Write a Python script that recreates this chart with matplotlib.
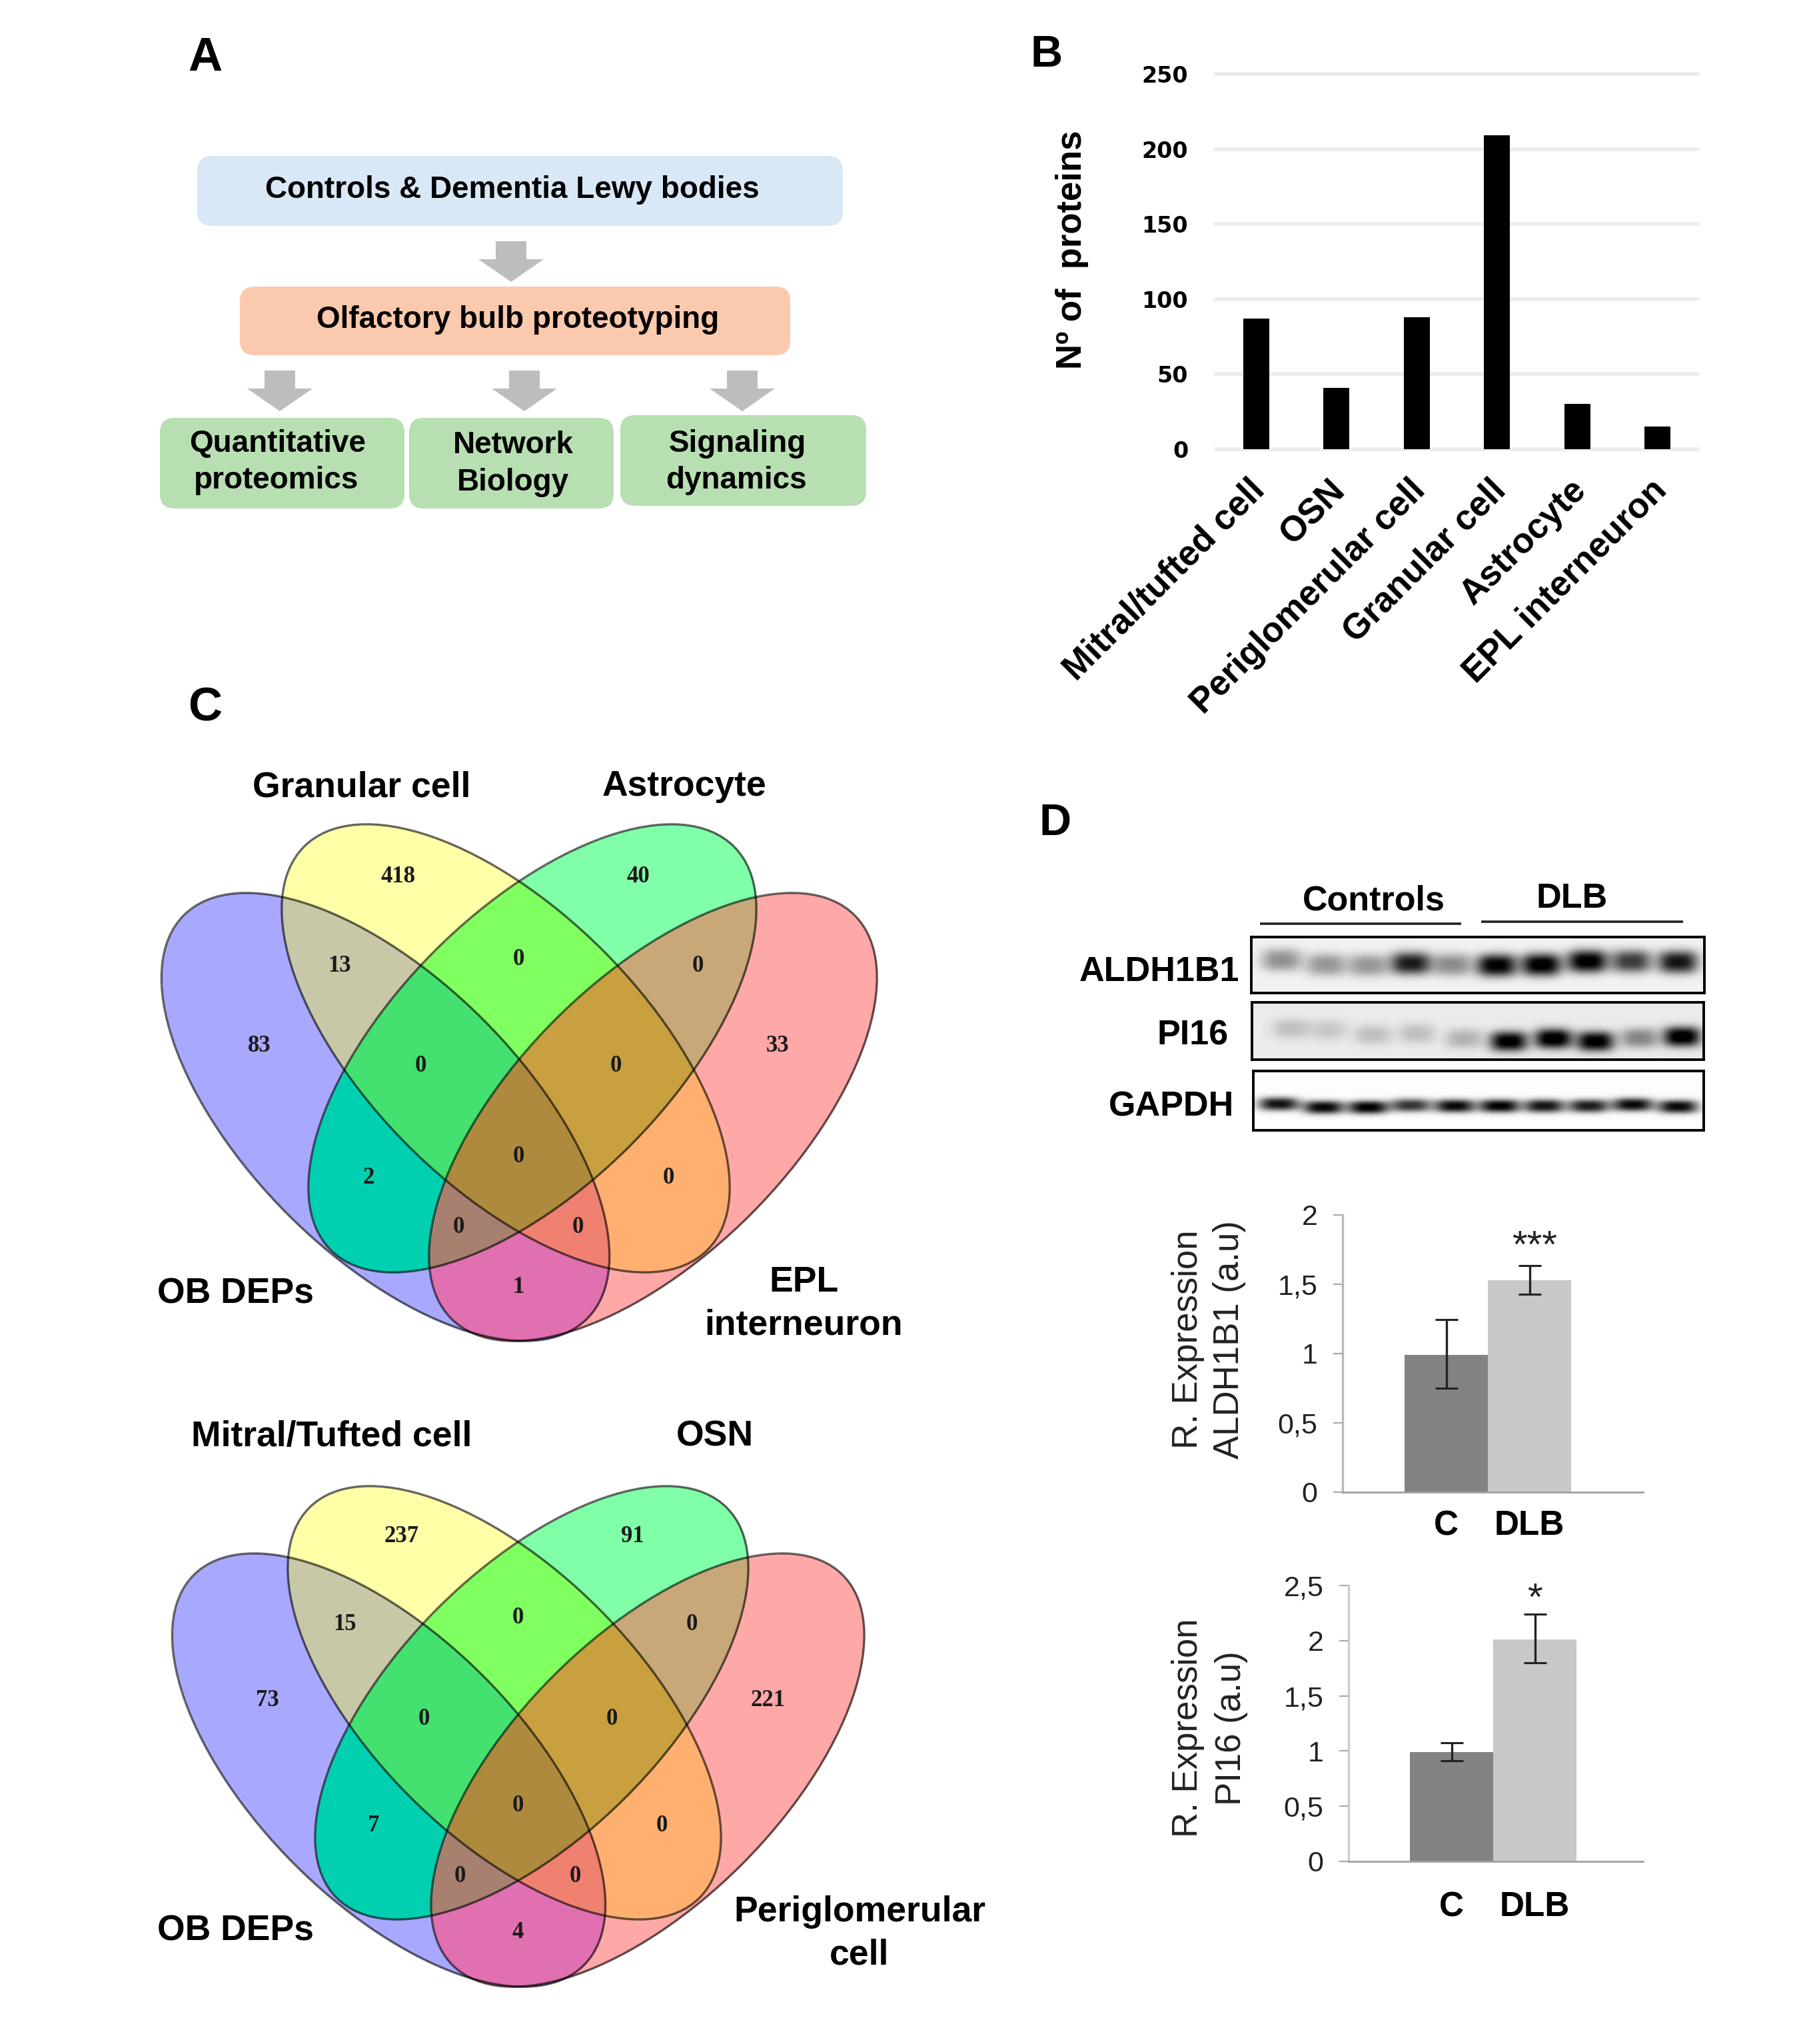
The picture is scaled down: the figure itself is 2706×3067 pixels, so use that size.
import numpy as np
import matplotlib
matplotlib.use("Agg")
import matplotlib.pyplot as plt
from matplotlib.colors import to_rgb
from matplotlib.patches import Ellipse, FancyBboxPatch, Polygon

plt.rcParams['font.family'] = ['Liberation Sans', 'DejaVu Sans']

W, H = 2706, 3067

# Panel B
cell_types = ["Mitral/tufted cell", "OSN", "Periglomerular cell", "Granular cell", "Astrocyte", "EPL interneuron"]
n_proteins = [87, 41, 88, 209, 30, 15]
b_ticks = [0, 50, 100, 150, 200, 250]

# Panel C
venn1_sets = ["OB DEPs", "Granular cell", "Astrocyte", "EPL\ninterneuron"]
venn1_counts = [418, 40, 13, 0, 0, 83, 33, 0, 0, 0, 2, 0, 0, 0, 1]
venn2_sets = ["OB DEPs", "Mitral/Tufted cell", "OSN", "Periglomerular\ncell"]
venn2_counts = [237, 91, 15, 0, 0, 73, 221, 0, 0, 0, 7, 0, 0, 0, 4]

# Panel D bar charts
groups = ["C", "DLB"]
aldh_mean = [0.99, 1.53]
aldh_low = [0.75, 1.43]
aldh_high = [1.245, 1.635]
aldh_ticks = [0, 0.5, 1, 1.5, 2]
pi16_mean = [0.99, 2.01]
pi16_low = [0.91, 1.80]
pi16_high = [1.075, 2.24]
pi16_ticks = [0, 0.5, 1, 1.5, 2, 2.5]

# Panel D blot band strengths, one per lane
aldh_bands = [0.38, 0.36, 0.36, 0.85, 0.40, 0.97, 1.0, 1.0, 0.72, 0.88]
pi16_bands = [0.17, 0.14, 0.17, 0.17, 0.22, 0.97, 1.0, 0.97, 0.40, 1.0]
gapdh_bands = [0.92, 0.97, 1.0, 0.78, 0.96, 1.0, 0.92, 0.88, 0.96, 0.96]

# colour of each venn region, index = blue + 2*yellow + 4*green + 8*red
region_colors = ["#ffffff", "#a8a8ff", "#ffffa8", "#c8c8a8", "#80ffa8", "#00d0b0", "#80ff60", "#44e070",
                 "#ffa8a8", "#e070b0", "#ffb070", "#f08070", "#c8a878", "#a88070", "#c8a040", "#ad8a3d"]

fig = plt.figure(figsize=(W / 100, H / 100), dpi=100, facecolor="white")
ax = fig.add_axes([0, 0, 1, 1])
ax.axis("off")


def axes_px(left, top, right, bottom):
    a = fig.add_axes([left / W, 1 - bottom / H, (right - left) / W, (bottom - top) / H])
    a.patch.set_alpha(0)
    return a


def label(x, y, s, size=38.5, weight="bold", **kw):
    ax.text(x, y, s, fontsize=size, fontweight=weight, ha="center", va="center", linespacing=1.37, **kw)


# panel letters
label(308, 88, "A", 51)
label(1571, 83, "B", 48)
label(308, 1063, "C", 51)
label(1584, 1236, "D", 48)

# Panel A flow chart
boxes = [
    (296, 234, 1265, 339, "#d9e8f6", [(769, 285, "Controls & Dementia Lewy bodies")]),
    (360, 430, 1186, 533, "#fbc9ad", [(777, 480, "Olfactory bulb proteotyping")]),
    (240, 627, 607, 763, "#b8dfb2", [(417, 666, "Quantitative"), (415, 721, "proteomics")]),
    (614, 627, 921, 763, "#b8dfb2", [(770, 668, "Network"), (770, 724, "Biology")]),
    (931, 623, 1300, 759, "#b8dfb2", [(1107, 666, "Signaling"), (1105, 721, "dynamics")]),
]
for x0, y0, x1, y1, col, lines in boxes:
    ax.add_patch(FancyBboxPatch((x0, y0), x1 - x0, y1 - y0, boxstyle="round,pad=0,rounding_size=22",
                                fc=col, ec="none"))
    for tx, ty, s in lines:
        label(tx, ty, s, 33)

for cx, top in [(767, 362), (420, 556), (787, 556), (1114, 556)]:
    ax.add_patch(Polygon([(cx - 23, top), (cx + 23, top), (cx + 23, top + 27), (cx + 49, top + 27),
                          (cx, top + 61), (cx - 49, top + 27), (cx - 23, top + 27)], fc="#bdbdbd", ec="none"))


# Panel C venn diagrams
def venn(centres, a, b, counts, spots, names, name_spots):
    angles = [45, 45, -45, -45]
    x0, x1 = min(c[0] for c in centres) - 350, max(c[0] for c in centres) + 350
    y0, y1 = min(c[1] for c in centres) - 350, max(c[1] for c in centres) + 350
    xx, yy = np.meshgrid(np.arange(x0, x1), np.arange(y0, y1))
    idx = np.zeros(xx.shape, dtype=int)
    for i, ((cx, cy), ang) in enumerate(zip(centres, angles)):
        t = np.radians(ang)
        u = (xx - cx) * np.cos(t) + (yy - cy) * np.sin(t)
        v = -(xx - cx) * np.sin(t) + (yy - cy) * np.cos(t)
        idx += ((u / a) ** 2 + (v / b) ** 2 <= 1).astype(int) * 2 ** i
    lut = np.array([to_rgb(c) for c in region_colors])
    ax.imshow(lut[idx], extent=(x0, x1, y1, y0), aspect="auto", interpolation="nearest", zorder=0)
    for (cx, cy), ang in zip(centres, angles):
        ax.add_patch(Ellipse((cx, cy), 2 * a, 2 * b, angle=ang, fc="none", ec="#000000", alpha=0.6, lw=2.4))
    for c, (x, y) in zip(counts, spots):
        ax.text(x, y, str(c), fontsize=25, fontweight="bold", family="Liberation Serif", color="#1a1a1a",
                ha="center", va="center")
    for s, (x, y) in zip(names, name_spots):
        label(x, y, s)


venn([(578.5, 1676), (759, 1573), (799, 1573), (980, 1676)], 428, 207, venn1_counts,
     [(598, 1315), (958, 1315), (510, 1449), (778, 1439), (1047, 1449), (389, 1569), (1167, 1569),
      (631, 1599), (924, 1599), (778, 1735), (553, 1767), (1003, 1767), (688, 1842), (867, 1842), (778, 1931)],
     venn1_sets, [(354, 1942), (543, 1181), (1027, 1180), (1206, 1956)])

venn([(583.5, 2656), (757, 2555), (798, 2555), (972, 2656)], 414, 200, venn2_counts,
     [(603, 2306), (949, 2306), (518, 2437), (777, 2428), (1038, 2437), (401, 2552), (1152, 2552),
      (636, 2580), (918, 2580), (777, 2710), (561, 2740), (993, 2740), (690, 2816), (863, 2816), (777, 2900)],
     venn2_sets, [(354, 2898), (498, 2156), (1073, 2156), (1290, 2901)])

ax.set_xlim(0, W)
ax.set_ylim(H, 0)

# Panel B bars
axb = axes_px(1825, 111, 2548, 674)
xb = np.arange(len(cell_types))
axb.bar(xb, n_proteins, width=0.32, color="black", zorder=3)
axb.set_xlim(-0.5, 5.5)
axb.set_ylim(0, 250)
axb.set_yticks(b_ticks)
axb.set_yticklabels([str(t) for t in b_ticks], fontsize=24, fontweight="bold", family="DejaVu Sans")
axb.set_xticks(xb - 0.1)
axb.set_xticklabels(cell_types, rotation=45, ha="right", va="top", rotation_mode="anchor",
                    fontsize=38, fontweight="bold")
axb.tick_params(length=0, pad=30, axis="y")
axb.tick_params(length=0, pad=26, axis="x")
axb.grid(axis="y", color="#ececec", lw=4, zorder=0)
for sp in axb.spines.values():
    sp.set_visible(False)
for ln in axb.get_ygridlines():
    ln.set_clip_on(False)
ax.text(1609, 375, "Nº of  proteins", rotation=90, fontsize=38, fontweight="bold", ha="center", va="center")


# Panel D blots
def blot(x0, y0, x1, y1, bands, lanes, rows, half_w, half_h, back, label_txt, label_xy):
    xx, yy = np.meshgrid(np.arange(x0, x1), np.arange(y0, y1))
    img = np.full(xx.shape, back, dtype=float)
    for s, lx, ly in zip(bands, lanes, rows):
        img += s * np.exp(-np.abs((xx - lx) / half_w) ** 3 - np.abs((yy - ly) / half_h) ** 2.5)
    a = axes_px(x0, y0, x1, y1)
    a.imshow(np.clip(img, 0, 1), cmap="gray_r", vmin=0, vmax=1, aspect="auto", interpolation="bilinear")
    a.set_xticks([])
    a.set_yticks([])
    for sp in a.spines.values():
        sp.set_linewidth(2.8)
    ax.text(label_xy[0], label_xy[1], label_txt, fontsize=37.5, fontweight="bold", ha="right", va="center")


blot(1878, 1406, 2558, 1490, aldh_bands,
     [1923, 1990, 2053, 2117, 2179, 2246, 2313, 2382, 2448, 2518],
     [1440, 1447, 1448, 1445, 1447, 1448, 1447, 1442, 1442, 1443], 30, 17, 0.05, "ALDH1B1", (1860, 1458))
blot(1879, 1504, 2557, 1590, pi16_bands,
     [1937, 1993, 2060, 2126, 2197, 2264, 2331, 2394, 2460, 2524],
     [1543, 1545, 1552, 1550, 1558, 1562, 1558, 1562, 1557, 1555], 28, 15, 0.08, "PI16", (1844, 1554))
blot(1881, 1607, 2557, 1696, gapdh_bands,
     [1919, 1986, 2053, 2117, 2183, 2250, 2317, 2384, 2450, 2518],
     [1656, 1661, 1661, 1658, 1659, 1659, 1659, 1659, 1657, 1660], 30, 10, 0.01, "GAPDH", (1852, 1661))

label(2062, 1352, "Controls", 37.5)
label(2359, 1348, "DLB", 37.5)
ax.plot([1891, 2193], [1386, 1386], color="#222222", lw=2.6, solid_capstyle="butt")
ax.plot([2223, 2526], [1383, 1383], color="#222222", lw=2.6, solid_capstyle="butt")


# Panel D bar charts
def expr_chart(left, top, right, bottom, x_c, x_dlb, means, low, high, ymax, ticks, ylab, ylab_x, ylab_y,
               star, star_xy, spine_col, xpad):
    a = axes_px(left, top, right, bottom)
    step = x_dlb - x_c
    a.set_xlim((left - x_c) / step, (right - x_c) / step)
    a.set_ylim(0, ymax)
    xs = np.arange(2)
    a.bar(xs, means, width=1.0, color=["#838383", "#c8c8c8"])
    yerr = [np.array(means) - np.array(low), np.array(high) - np.array(means)]
    a.errorbar(xs + 0.01, means, yerr=yerr, fmt="none", ecolor="#222222", elinewidth=2.4, capsize=12, capthick=2.2)
    a.set_yticks(ticks)
    a.set_yticklabels([str(t).replace(".", ",") for t in ticks], fontsize=31, color="#222222")
    a.set_xticks(xs)
    a.set_xticklabels(groups, fontsize=37, fontweight="bold")
    a.tick_params(axis="y", length=10, width=1.6, color="#aaaaaa", pad=17)
    a.tick_params(axis="x", length=0, pad=xpad)
    a.spines["top"].set_visible(False)
    a.spines["right"].set_visible(False)
    a.spines["left"].set_color(spine_col)
    a.spines["left"].set_linewidth(2.4)
    a.spines["bottom"].set_color("#a0a0a0")
    a.spines["bottom"].set_linewidth(2)
    for s, x, in zip(ylab, ylab_x):
        ax.text(x, ylab_y, s, rotation=90, fontsize=38, color="#222222", ha="center", va="center")
    ax.text(star_xy[0], star_xy[1], star, fontsize=42, color="#222222", ha="center", va="center")


expr_chart(2015, 1823, 2466, 2239, 2170, 2295, aldh_mean, aldh_low, aldh_high, 2, aldh_ticks,
           ["R. Expression", "ALDH1B1 (a.u)"], [1783, 1845], 2010, "***", (2303, 1872), "#b8b8b8", 19)
expr_chart(2024, 2379, 2466, 2793, 2178, 2303, pi16_mean, pi16_low, pi16_high, 2.5, pi16_ticks,
           ["R. Expression", "PI16 (a.u)"], [1783, 1848], 2593, "*", (2303, 2401), "#cccccc", 32)

fig.savefig("out.png", dpi=100, facecolor="white")
